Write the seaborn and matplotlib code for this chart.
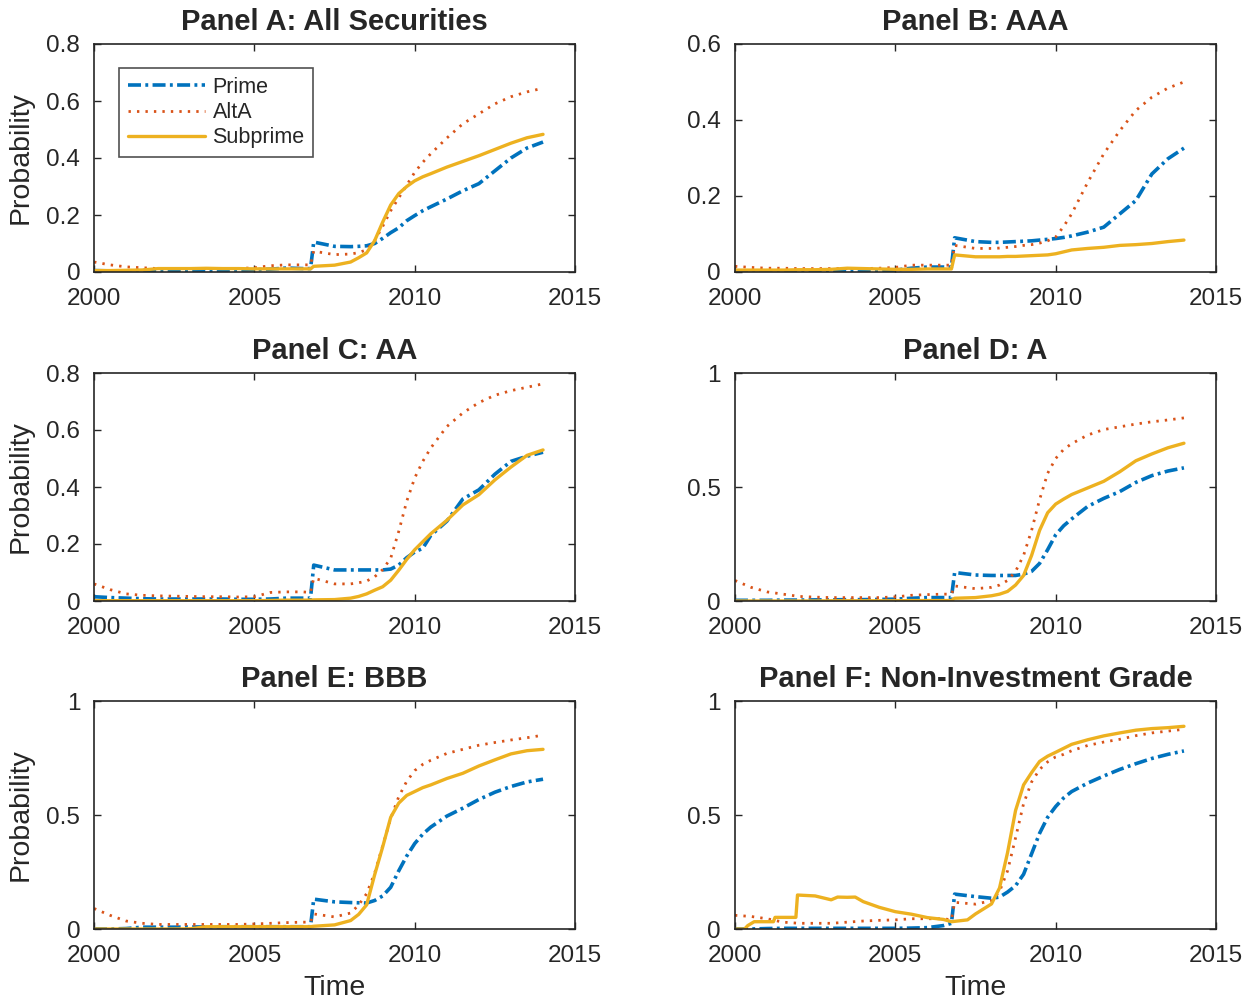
import numpy as np
import pandas as pd
import matplotlib
matplotlib.use("Agg")
import matplotlib.pyplot as plt
import seaborn as sns
from matplotlib.ticker import FuncFormatter

# common time grid (years)
T = [2000, 2000.5, 2001, 2001.5, 2002, 2002.5, 2003, 2003.5, 2004, 2004.5,
     2005, 2005.5, 2006, 2006.5, 2006.75, 2006.85, 2007.5, 2008, 2008.25, 2008.5,
     2008.75, 2009, 2009.25, 2009.5, 2009.75, 2010, 2010.25, 2010.5, 2011, 2011.5,
     2012, 2012.5, 2013, 2013.5, 2014]

# Panel A: All Securities
a_prime = [0.005, 0.004, 0.004, 0.005, 0.006, 0.005, 0.005, 0.006, 0.006, 0.007,
           0.008, 0.01, 0.014, 0.012, 0.012, 0.105, 0.09, 0.089, 0.09, 0.092,
           0.1, 0.118, 0.138, 0.155, 0.18, 0.198, 0.215, 0.229, 0.256, 0.285,
           0.31, 0.355, 0.4, 0.435, 0.456]
a_alta = [0.035, 0.025, 0.018, 0.015, 0.012, 0.012, 0.012, 0.012, 0.012, 0.012,
          0.015, 0.022, 0.025, 0.025, 0.025, 0.073, 0.061, 0.063, 0.068, 0.078,
          0.11, 0.16, 0.215, 0.26, 0.305, 0.35, 0.385, 0.415, 0.47, 0.52,
          0.555, 0.59, 0.615, 0.632, 0.645]
a_sub = [0.005, 0.005, 0.006, 0.007, 0.012, 0.012, 0.012, 0.013, 0.012, 0.012,
         0.011, 0.011, 0.011, 0.011, 0.011, 0.02, 0.024, 0.035, 0.05, 0.067,
         0.11, 0.175, 0.235, 0.275, 0.3, 0.32, 0.334, 0.345, 0.368, 0.388,
         0.408, 0.43, 0.452, 0.471, 0.483]

# Panel B: AAA
b_prime = [0.003, 0.003, 0.003, 0.003, 0.003, 0.003, 0.004, 0.004, 0.004, 0.004,
           0.005, 0.01, 0.013, 0.013, 0.013, 0.09, 0.08, 0.078, 0.078, 0.079,
           0.08, 0.081, 0.082, 0.084, 0.086, 0.088, 0.091, 0.095, 0.105, 0.118,
           0.153, 0.188, 0.258, 0.298, 0.326]
b_alta = [0.015, 0.012, 0.01, 0.01, 0.009, 0.009, 0.009, 0.009, 0.009, 0.01,
          0.012, 0.018, 0.018, 0.018, 0.018, 0.07, 0.062, 0.062, 0.063, 0.065,
          0.067, 0.07, 0.072, 0.076, 0.082, 0.092, 0.12, 0.153, 0.236, 0.311,
          0.372, 0.425, 0.46, 0.484, 0.5]
b_sub = [0.005, 0.005, 0.005, 0.005, 0.006, 0.006, 0.007, 0.01, 0.009, 0.008,
         0.007, 0.007, 0.008, 0.008, 0.008, 0.045, 0.04, 0.04, 0.04, 0.041,
         0.041, 0.042, 0.043, 0.044, 0.045, 0.048, 0.053, 0.058, 0.062, 0.065,
         0.07, 0.072, 0.075, 0.08, 0.084]

# Panel C: AA
c_prime = [0.015, 0.012, 0.01, 0.008, 0.007, 0.007, 0.007, 0.007, 0.007, 0.006,
           0.006, 0.007, 0.01, 0.01, 0.01, 0.126, 0.109, 0.109, 0.109, 0.109,
           0.109, 0.109, 0.112, 0.126, 0.152, 0.172, 0.185, 0.23, 0.28, 0.358,
           0.39, 0.445, 0.49, 0.508, 0.522]
c_alta = [0.06, 0.04, 0.025, 0.02, 0.018, 0.017, 0.016, 0.015, 0.015, 0.014,
          0.015, 0.03, 0.032, 0.032, 0.03, 0.08, 0.06, 0.06, 0.064, 0.07,
          0.085, 0.11, 0.15, 0.244, 0.35, 0.432, 0.49, 0.537, 0.612, 0.66,
          0.696, 0.722, 0.738, 0.75, 0.762]
c_sub = [0.001, 0.001, 0.001, 0.001, 0.001, 0.001, 0.001, 0.001, 0.001, 0.001,
         0.001, 0.002, 0.003, 0.003, 0.003, 0.004, 0.005, 0.01, 0.016, 0.025,
         0.038, 0.05, 0.073, 0.108, 0.146, 0.18, 0.208, 0.236, 0.283, 0.337,
         0.373, 0.425, 0.47, 0.511, 0.53]

# Panel D: A
d_prime = [0.003, 0.003, 0.003, 0.004, 0.004, 0.005, 0.005, 0.006, 0.006, 0.007,
           0.008, 0.012, 0.015, 0.015, 0.015, 0.125, 0.114, 0.112, 0.112, 0.112,
           0.112, 0.118, 0.13, 0.165, 0.225, 0.29, 0.33, 0.36, 0.415, 0.45,
           0.48, 0.52, 0.55, 0.57, 0.584]
d_alta = [0.09, 0.06, 0.04, 0.03, 0.02, 0.017, 0.015, 0.015, 0.015, 0.015,
          0.018, 0.025, 0.028, 0.03, 0.03, 0.066, 0.054, 0.06, 0.07, 0.09,
          0.13, 0.2, 0.31, 0.445, 0.56, 0.625, 0.665, 0.69, 0.728, 0.752,
          0.764, 0.776, 0.786, 0.794, 0.803]
d_sub = [0.0, 0.0, 0.0, 0.0, 0.0, 0.0, 0.001, 0.001, 0.001, 0.001,
         0.001, 0.002, 0.002, 0.002, 0.002, 0.012, 0.015, 0.023, 0.03, 0.042,
         0.07, 0.112, 0.2, 0.31, 0.387, 0.425, 0.447, 0.467, 0.496, 0.525,
         0.567, 0.615, 0.645, 0.672, 0.692]

# Panel E: BBB
e_prime = [0.0, 0.0, 0.002, 0.008, 0.008, 0.008, 0.009, 0.009, 0.01, 0.01,
           0.01, 0.01, 0.01, 0.01, 0.01, 0.131, 0.119, 0.116, 0.115, 0.114,
           0.125, 0.145, 0.183, 0.255, 0.32, 0.375, 0.416, 0.447, 0.495, 0.53,
           0.568, 0.6, 0.625, 0.645, 0.657]
e_alta = [0.09, 0.06, 0.035, 0.025, 0.02, 0.02, 0.02, 0.02, 0.02, 0.02,
          0.022, 0.025, 0.028, 0.03, 0.03, 0.066, 0.053, 0.07, 0.105, 0.155,
          0.245, 0.365, 0.485, 0.58, 0.648, 0.695, 0.722, 0.74, 0.77, 0.788,
          0.806, 0.818, 0.829, 0.839, 0.85]
e_sub = [0.0, 0.0, 0.0, 0.0, 0.0, 0.0, 0.001, 0.01, 0.01, 0.01,
         0.01, 0.01, 0.01, 0.01, 0.01, 0.012, 0.018, 0.037, 0.064, 0.106,
         0.238, 0.36, 0.49, 0.552, 0.586, 0.603, 0.62, 0.632, 0.66, 0.683,
         0.715, 0.742, 0.768, 0.782, 0.788]

# Panel F: Non-Investment Grade
f_prime = [0.0, 0.0, 0.002, 0.003, 0.003, 0.003, 0.003, 0.003, 0.003, 0.003,
           0.003, 0.004, 0.006, 0.015, 0.025, 0.153, 0.142, 0.135, 0.14, 0.162,
           0.19, 0.24, 0.33, 0.42, 0.49, 0.537, 0.575, 0.603, 0.64, 0.671,
           0.7, 0.725, 0.748, 0.766, 0.781]
f_alta = [0.06, 0.055, 0.045, 0.03, 0.025, 0.025, 0.025, 0.03, 0.035, 0.038,
          0.04, 0.045, 0.045, 0.045, 0.04, 0.117, 0.109, 0.124, 0.165, 0.255,
          0.4, 0.55, 0.645, 0.7, 0.733, 0.755, 0.766, 0.782, 0.805, 0.82,
          0.832, 0.848, 0.86, 0.868, 0.876]
T_f_sub = [2000, 2000.3, 2000.4, 2000.6, 2001.2, 2001.25, 2001.9, 2001.95, 2002.5, 2003,
           2003.2, 2003.5, 2003.75, 2004, 2004.5, 2005, 2005.5, 2006, 2006.5, 2006.75,
           2007.25, 2007.5, 2008, 2008.25, 2008.5, 2008.75, 2009, 2009.25, 2009.5, 2009.75,
           2010, 2010.5, 2011, 2011.5, 2012, 2012.5, 2013, 2013.5, 2014]
f_sub = [0.0, 0.0, 0.015, 0.032, 0.032, 0.051, 0.051, 0.149, 0.145, 0.128,
         0.14, 0.139, 0.14, 0.12, 0.095, 0.076, 0.065, 0.05, 0.042, 0.032,
         0.04, 0.066, 0.11, 0.18, 0.335, 0.52, 0.632, 0.686, 0.735, 0.758,
         0.775, 0.81, 0.83, 0.847, 0.86, 0.872, 0.879, 0.883, 0.889]

titles = ["Panel A: All Securities", "Panel B: AAA", "Panel C: AA",
          "Panel D: A", "Panel E: BBB", "Panel F: Non-Investment Grade"]
ylims = [0.8, 0.6, 0.8, 1, 1, 1]
yticks = [[0, 0.2, 0.4, 0.6, 0.8], [0, 0.2, 0.4, 0.6], [0, 0.2, 0.4, 0.6, 0.8],
          [0, 0.5, 1], [0, 0.5, 1], [0, 0.5, 1]]
xticks = [2000, 2005, 2010, 2015]

panels = [
    [(T, a_prime), (T, a_alta), (T, a_sub)],
    [(T, b_prime), (T, b_alta), (T, b_sub)],
    [(T, c_prime), (T, c_alta), (T, c_sub)],
    [(T, d_prime), (T, d_alta), (T, d_sub)],
    [(T, e_prime), (T, e_alta), (T, e_sub)],
    [(T, f_prime), (T, f_alta), (T_f_sub, f_sub)],
]

names = ["Prime", "AltA", "Subprime"]
colors = ["#0072BD", "#D95319", "#EDB120"]
styles = [(0, (3.6, 1.2, 0.8, 1.2)), (0, (0.85, 2.2)), "-"]
widths = [2.6, 2.0, 2.4]

sns.set_style("ticks")
plt.rcParams["font.family"] = ["Liberation Sans", "DejaVu Sans"]

fig = plt.figure(figsize=(12.44, 10), dpi=100)
lefts = [0.0756, 0.5908]
bottoms = [0.728, 0.399, 0.071]
w, h = 0.3867, 0.228

fmt = FuncFormatter(lambda v, p: f"{v:g}")

for i, series in enumerate(panels):
    r, c = divmod(i, 2)
    ax = fig.add_axes([lefts[c], bottoms[r], w, h])
    for (x, y), name, col, ls, lw in zip(series, names, colors, styles, widths):
        sns.lineplot(x=x, y=y, ax=ax, color=col, linewidth=lw, label=name,
                     estimator=None, sort=False)
        ax.lines[-1].set_linestyle(ls)
    ax.set_xlim(2000, 2015)
    ax.set_ylim(0, ylims[i])
    ax.set_xticks(xticks)
    ax.set_yticks(yticks[i])
    ax.yaxis.set_major_formatter(fmt)
    ax.tick_params(direction="in", length=5, width=1, top=True, right=True,
                   labelsize=17.5, colors="#262626")
    ax.tick_params(axis="x", pad=11.5)
    ax.tick_params(axis="y", pad=10)
    for s in ax.spines.values():
        s.set_linewidth(1.2)
        s.set_color("#262626")
        s.set_visible(True)
    ax.set_title(titles[i], fontsize=21, fontweight="bold", pad=10)
    if c == 0:
        ax.set_ylabel("Probability", fontsize=20.5, color="#262626", labelpad=9)
    else:
        ax.set_ylabel("")
    if r == 2:
        ax.set_xlabel("Time", fontsize=20.5, color="#262626", labelpad=6)
    else:
        ax.set_xlabel("")
    if i == 0:
        leg = ax.legend(loc="upper left", bbox_to_anchor=(0.052, 0.894),
                        borderaxespad=0, fontsize=15.5, frameon=True, fancybox=False,
                        handlelength=3.6, handletextpad=0.34, labelspacing=0.2,
                        borderpad=0.4)
        leg.get_frame().set_edgecolor("#262626")
        leg.get_frame().set_linewidth(1.2)
    else:
        ax.get_legend().remove()

fig.savefig("out.png", dpi=100)
